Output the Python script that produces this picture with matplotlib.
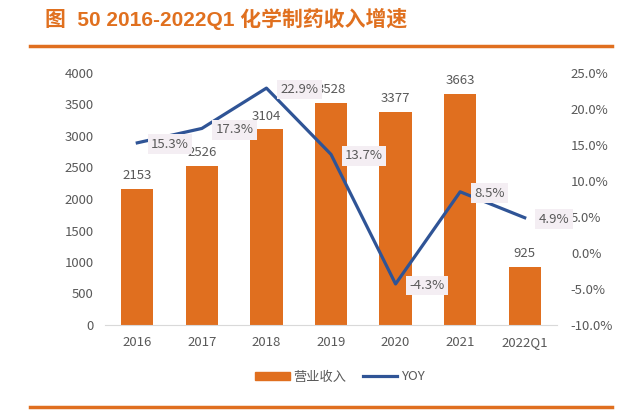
import matplotlib
matplotlib.use("Agg")
import matplotlib.pyplot as plt
from matplotlib.patches import Patch
from matplotlib.lines import Line2D

plt.rcParams['font.family'] = ['Noto Sans CJK SC', 'DejaVu Sans']

categories = ["2016", "2017", "2018", "2019", "2020", "2021", "2022Q1"]
revenue = [2153, 2526, 3104, 3528, 3377, 3663, 925]
yoy = [15.3, 17.3, 22.9, 13.7, -4.3, 8.5, 4.9]
left_ticks = [0, 500, 1000, 1500, 2000, 2500, 3000, 3500, 4000]
right_ticks = [-10, -5, 0, 5, 10, 15, 20, 25]

orange = '#E06F1F'
blue = '#2F5496'
grey = '#595959'

fig = plt.figure(figsize=(6.4, 4.15), dpi=100)
ax = fig.add_axes([105/640, 1-325/415, (557-105)/640, (325-73)/415])
x = list(range(len(categories)))
ax.bar(x, revenue, width=0.5, color=orange, zorder=2)
ax.set_xlim(-0.5, len(categories)-0.5)
ax.set_ylim(0, 4000)
ax.set_yticks(left_ticks)
ax.set_xticks(x)
ax.set_xticklabels(categories)
for s in ['top', 'right', 'left']:
    ax.spines[s].set_visible(False)
ax.spines['bottom'].set_color('#d9d9d9')
ax.tick_params(axis='both', length=0, colors=grey, labelsize=9.5)
ax.tick_params(axis='x', pad=8)
ax.tick_params(axis='y', pad=8)
for xi, v in zip(x, revenue):
    ax.text(xi, v + 110, str(v), ha='center', va='bottom', fontsize=9.5, color=grey, zorder=1)

ax2 = ax.twinx()
ax2.plot(x, yoy, color=blue, lw=2.3, zorder=3)
ax2.set_ylim(-10, 25)
ax2.set_yticks(right_ticks)
ax2.set_yticklabels([f"{t:.1f}%" for t in right_ticks])
for s in ['top', 'right', 'left', 'bottom']:
    ax2.spines[s].set_visible(False)
ax2.tick_params(axis='y', length=0, colors=grey, labelsize=9.5, pad=10)
for xi, v in zip(x, yoy):
    ax2.annotate(f"{v:.1f}%", (xi, v), xytext=(10, -1), textcoords='offset points',
                 ha='left', va='center', fontsize=9.5, color=grey, zorder=4,
                 bbox=dict(boxstyle='square,pad=0.25', fc='#F4EEF3', ec='none'))

handles = [Patch(color=orange, label='营业收入'), Line2D([0], [0], color=blue, lw=2.3, label='YOY')]
fig.legend(handles=handles, loc='center', bbox_to_anchor=(340/640, 1-377/415), ncol=2,
           frameon=False, fontsize=9.5, labelcolor=grey, handlelength=2.6, handleheight=0.6,
           columnspacing=1.2, handletextpad=0.3)

fig.text(45/640, 1-19/415, "图  50 2016-2022Q1 化学制药收入增速", color='#E0701F',
         fontsize=15, fontweight='bold', ha='left', va='center',
         family=['Liberation Sans', 'Noto Sans CJK SC'])
fig.add_artist(Line2D([30/640, 612/640], [1-46/415, 1-46/415], color=orange, lw=2.5))
fig.add_artist(Line2D([30/640, 612/640], [1-407/415, 1-407/415], color=orange, lw=2.5))

fig.savefig("out.png", dpi=100)
